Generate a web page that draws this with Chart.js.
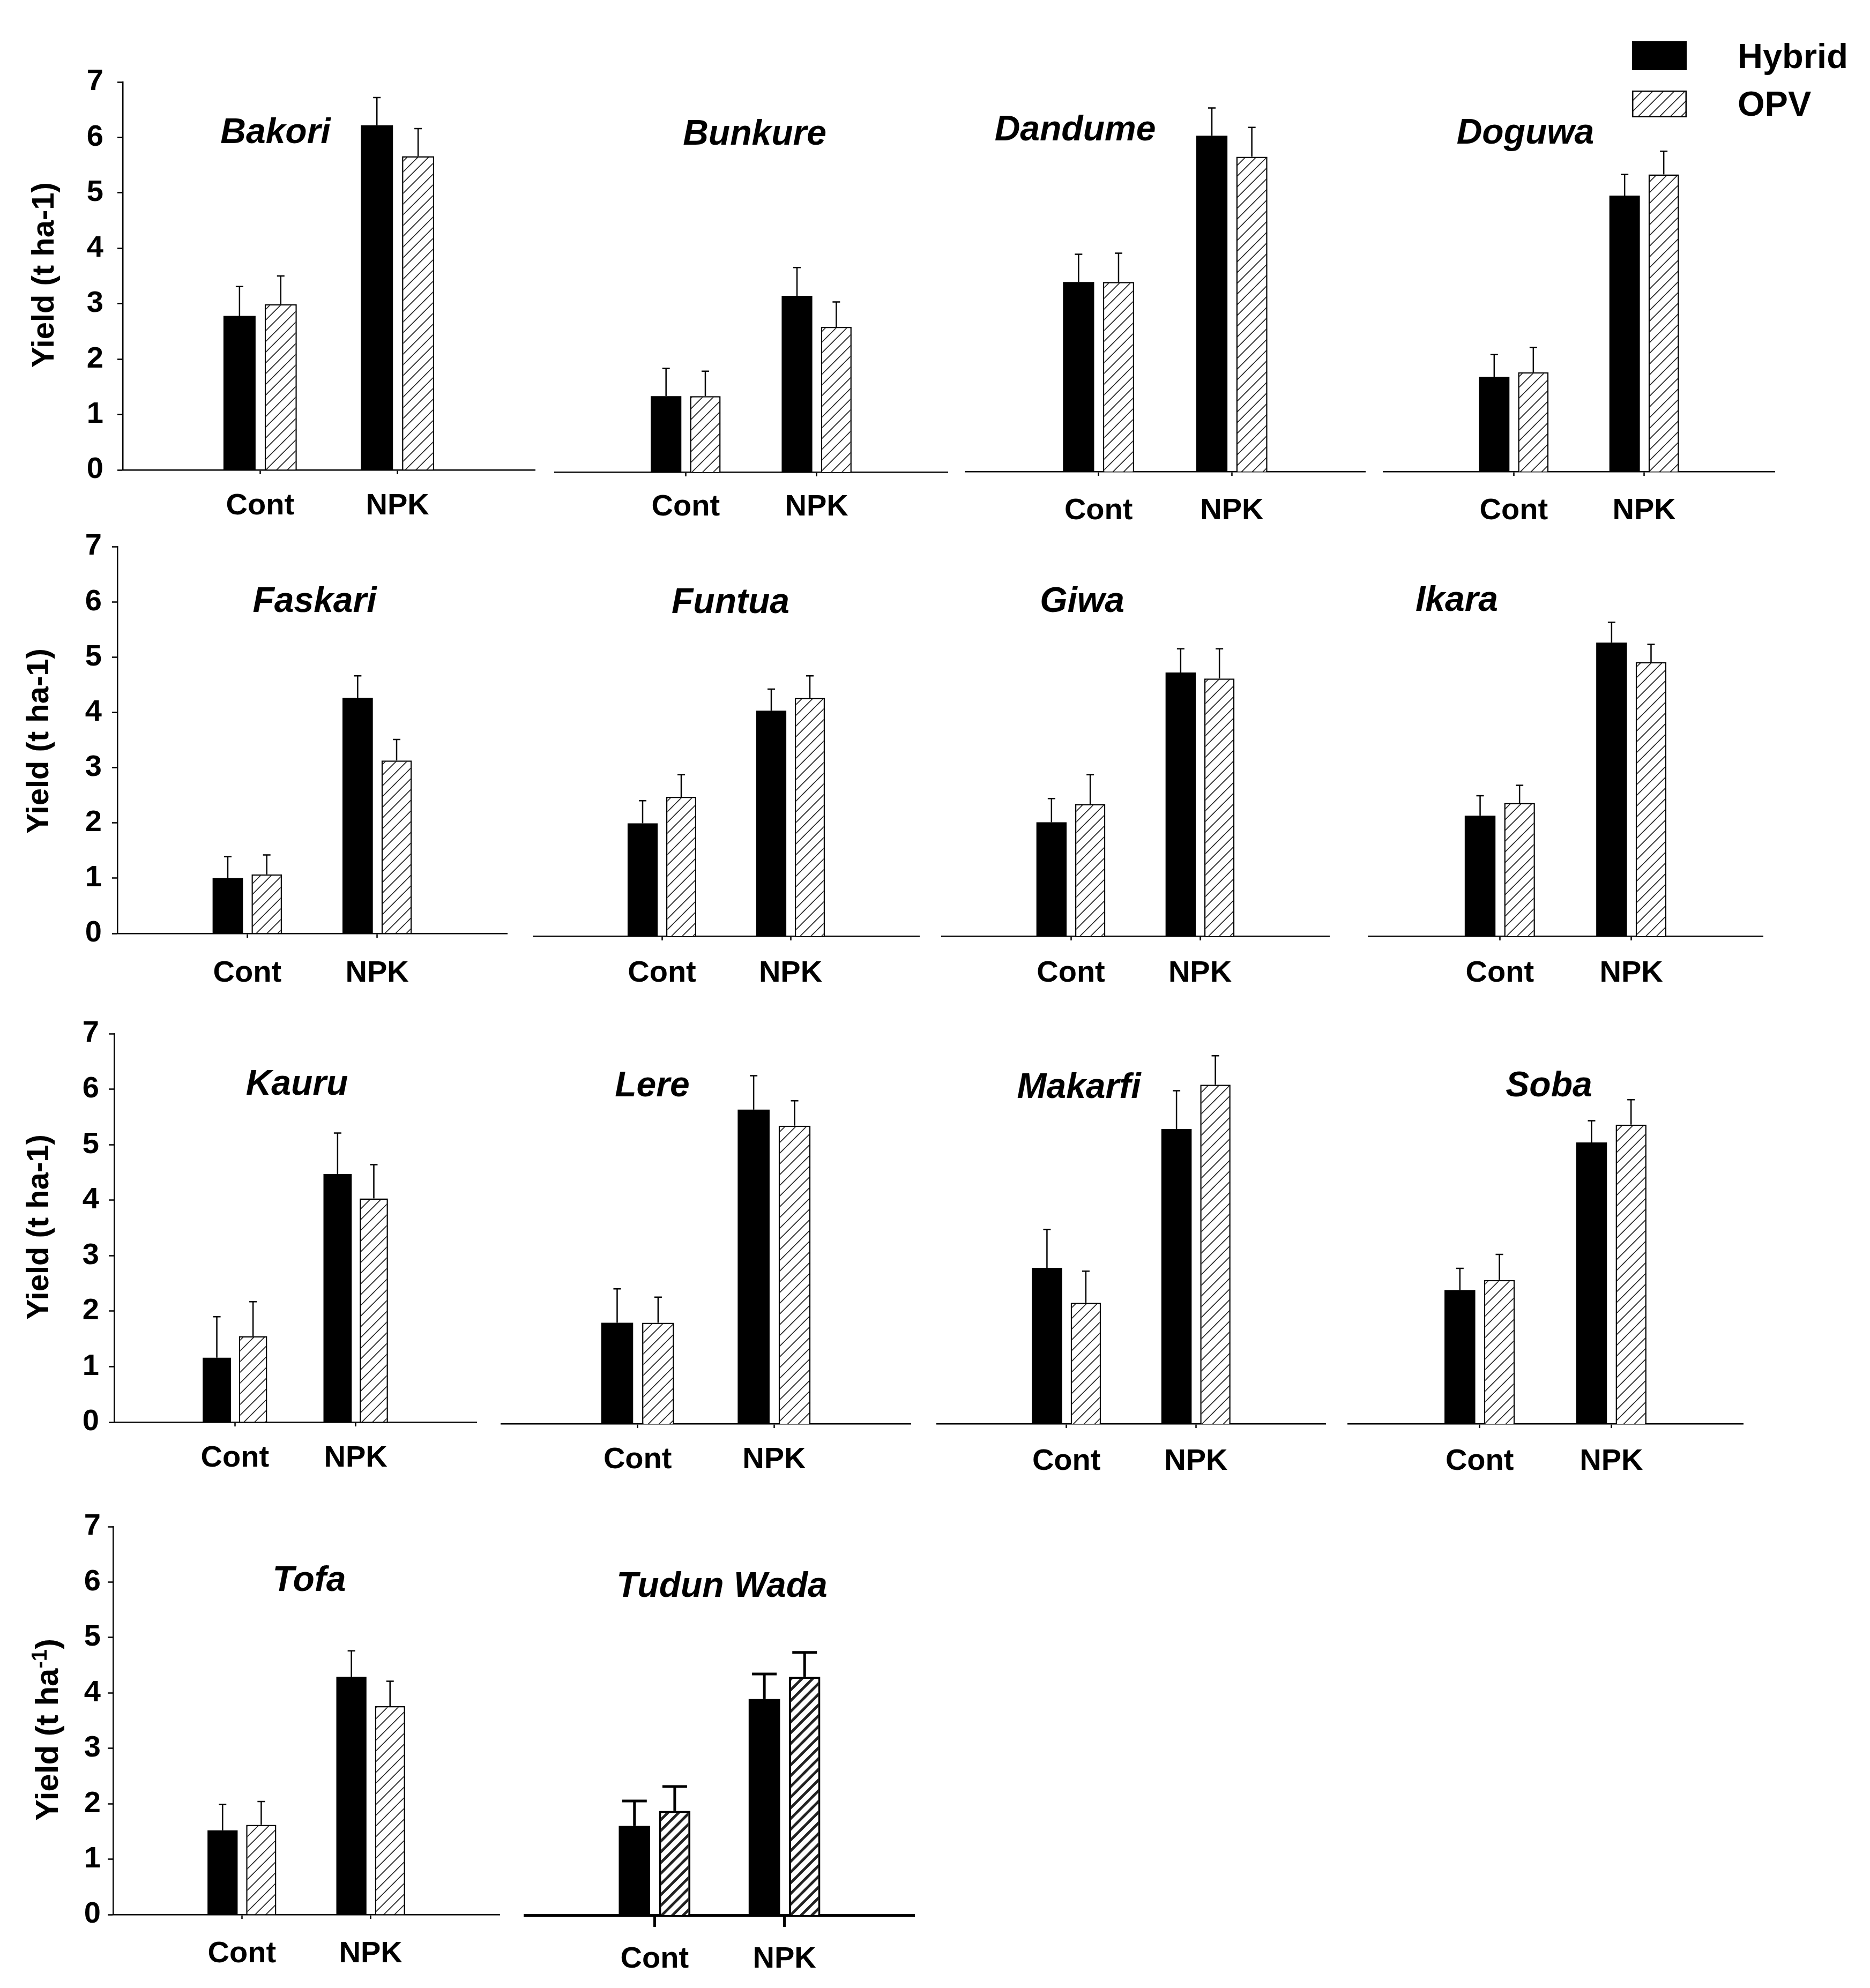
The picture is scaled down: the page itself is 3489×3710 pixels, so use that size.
<!DOCTYPE html>
<html>
<head>
<meta charset="utf-8">
<script src="https://cdn.jsdelivr.net/npm/chart.js@4.4.1/dist/chart.umd.min.js"></script>
<style>
  html, body { margin: 0; padding: 0; background: #fff; }
  #page { position: relative; width: 3489px; height: 3710px; overflow: hidden; background: #fff; }
  #page canvas { position: absolute; }
  .leg { position: absolute; font: bold 65px "Liberation Sans", Arial, sans-serif; color: #000; line-height: 1; white-space: nowrap; }
</style>
</head>
<body>
<div id="page"></div>
<script>
// data (t/ha), pairs are [Cont, NPK]
const sites = ['Bakori', 'Bunkure', 'Dandume', 'Doguwa', 'Faskari', 'Funtua', 'Giwa',
  'Ikara', 'Kauru', 'Lere', 'Makarfi', 'Soba', 'Tofa', 'Tudun Wada'];
const treatments = ['Cont', 'NPK'];
const series = ['Hybrid', 'OPV'];
const yTicks = [0, 1, 2, 3, 4, 5, 6, 7];

const hybridYield = [
  [2.78, 6.22], [1.37, 3.18], [3.42, 6.06], [1.71, 4.98],
  [1.00, 4.26], [2.04, 4.08], [2.06, 4.77], [2.18, 5.31],
  [1.16, 4.47], [1.82, 5.66], [2.81, 5.31], [2.41, 5.07],
  [1.52, 4.29], [1.61, 3.90]
];
const opvYield = [
  [2.99, 5.66], [1.37, 2.62], [3.42, 5.68], [1.79, 5.36],
  [1.07, 3.13], [2.52, 4.31], [2.39, 4.66], [2.41, 4.96],
  [1.55, 4.03], [1.82, 5.37], [2.18, 6.11], [2.59, 5.39],
  [1.62, 3.76], [1.88, 4.30]
];
const hybridSE = [
  [0.53, 0.50], [0.50, 0.51], [0.50, 0.50], [0.40, 0.38],
  [0.39, 0.40], [0.41, 0.39], [0.43, 0.43], [0.36, 0.37],
  [0.74, 0.74], [0.61, 0.61], [0.69, 0.69], [0.39, 0.39],
  [0.47, 0.47], [0.45, 0.45]
];
const opvSE = [
  [0.51, 0.50], [0.45, 0.45], [0.52, 0.53], [0.45, 0.42],
  [0.35, 0.38], [0.40, 0.40], [0.53, 0.54], [0.32, 0.32],
  [0.62, 0.61], [0.46, 0.45], [0.57, 0.52], [0.46, 0.45],
  [0.42, 0.45], [0.44, 0.44]
];

// where each panel sits on the page (pixels)
const layout = [
  { x0: 229, x1: 998, yBot: 877, unit: 103.4, tx: 514, ty: 243, lo: 68, yt: { x: 79, y: 513, sup: false, size: 58 }, ypad: 26 },
  { x0: 1035, x1: 1768, yBot: 881, unit: 103.4, tx: 1408, ty: 246, lo: 66 },
  { x0: 1801, x1: 2547, yBot: 880, unit: 103.4, tx: 2006, ty: 238, lo: 74 },
  { x0: 2581, x1: 3311, yBot: 880, unit: 103.4, tx: 2846, ty: 244, lo: 74 },
  { x0: 219, x1: 946, yBot: 1742, unit: 103.1, tx: 587, ty: 1118, lo: 75, yt: { x: 69, y: 1383, sup: false, size: 58 }, ypad: 19 },
  { x0: 995, x1: 1715, yBot: 1747, unit: 103.1, tx: 1363, ty: 1120, lo: 70 },
  { x0: 1757, x1: 2480, yBot: 1747, unit: 103.1, tx: 2019, ty: 1118, lo: 70 },
  { x0: 2553, x1: 3289, yBot: 1747, unit: 103.1, tx: 2718, ty: 1116, lo: 70 },
  { x0: 213, x1: 889, yBot: 2654, unit: 103.6, tx: 554, ty: 2019, lo: 68, yt: { x: 69, y: 2290, sup: false, size: 58 }, ypad: 18 },
  { x0: 935, x1: 1699, yBot: 2657, unit: 103.6, tx: 1217, ty: 2022, lo: 68 },
  { x0: 1748, x1: 2473, yBot: 2657, unit: 103.6, tx: 2013, ty: 2025, lo: 71 },
  { x0: 2515, x1: 3252, yBot: 2657, unit: 103.6, tx: 2890, ty: 2022, lo: 71 },
  { x0: 211, x1: 932, yBot: 3573, unit: 103.4, tx: 577, ty: 2945, lo: 74, yt: { x: 87, y: 3228, sup: true, size: 60 }, ypad: 13 },
  { x0: 979, x1: 1706, yBot: 3574, unit: 103.4, tx: 1347, ty: 2956, lo: 83, heavy: true }
];

const FONT = '"Liberation Sans", Arial, Helvetica, sans-serif';
const T = 80, B = 130, R = 40;

function hatch(lw) {
  const s = 20;
  const c = document.createElement('canvas');
  c.width = c.height = s;
  const g = c.getContext('2d');
  g.fillStyle = '#fff';
  g.fillRect(0, 0, s, s);
  g.strokeStyle = '#222';
  g.lineWidth = lw;
  g.beginPath();
  g.moveTo(-2, s + 2); g.lineTo(s + 2, -2);
  g.moveTo(-s / 2 - 2, s / 2 + 2); g.lineTo(s / 2 + 2, -s / 2 - 2);
  g.moveTo(s / 2 - 2, s * 1.5 + 2); g.lineTo(s * 1.5 + 2, s / 2 - 2);
  g.stroke();
  return g.createPattern(c, 'repeat');
}

const errorBars = {
  id: 'errorBars',
  afterDatasetsDraw(chart, args, o) {
    const ctx = chart.ctx, y = chart.scales.y;
    ctx.save();
    ctx.strokeStyle = '#000';
    ctx.lineWidth = o.width;
    chart.data.datasets.forEach((ds, d) => {
      chart.getDatasetMeta(d).data.forEach((bar, j) => {
        const v = ds.data[j];
        if (v == null) return;
        const top = y.getPixelForValue(v + ds.errors[j]);
        ctx.beginPath();
        ctx.moveTo(bar.x, bar.y);
        ctx.lineTo(bar.x, top);
        ctx.moveTo(bar.x - o.cap / 2, top);
        ctx.lineTo(bar.x + o.cap / 2, top);
        ctx.stroke();
      });
    });
    ctx.restore();
  }
};

const panelText = {
  id: 'panelText',
  afterDraw(chart, args, o) {
    const ctx = chart.ctx;
    ctx.save();
    ctx.fillStyle = '#000';
    ctx.font = 'italic bold 66px ' + FONT;
    ctx.textAlign = 'center';
    ctx.textBaseline = 'alphabetic';
    ctx.fillText(o.title, o.tx, o.ty + 24);
    if (o.yt) {
      const size = o.yt.size, small = Math.round(size * 0.66);
      const big = 'bold ' + size + 'px ' + FONT, sm = 'bold ' + small + 'px ' + FONT;
      const parts = o.yt.sup
        ? [['Yield (t ha', big, 0], ['-1', sm, -size * 0.36], [')', big, 0]]
        : [['Yield (t ha-1)', big, 0]];
      let total = 0;
      parts.forEach(p => { ctx.font = p[1]; total += ctx.measureText(p[0]).width; });
      ctx.translate(o.yt.x, o.yt.y);
      ctx.rotate(-Math.PI / 2);
      ctx.textAlign = 'left';
      let x = -total / 2;
      parts.forEach(p => {
        ctx.font = p[1];
        ctx.fillText(p[0], x, size * 0.358 + p[2]);
        x += ctx.measureText(p[0]).width;
      });
    }
    ctx.restore();
  }
};

const page = document.getElementById('page');

sites.forEach((site, i) => {
  const p = layout[i];
  const first = !!p.yt;
  const heavy = !!p.heavy;
  const yTopPx = Math.round(p.yBot - 7 * p.unit);
  const plotH = Math.round(p.yBot) - yTopPx;
  const L = first ? p.x0 : 40;
  const left = p.x0 - L;
  const top = yTopPx - T;
  const w = L + (p.x1 - p.x0) + R;
  const h = T + plotH + B;
  const tl = heavy ? 22 : 8;

  const cv = document.createElement('canvas');
  cv.width = w; cv.height = h;
  cv.style.left = left + 'px';
  cv.style.top = top + 'px';
  cv.style.width = w + 'px';
  cv.style.height = h + 'px';
  page.appendChild(cv);

  const tickFont = { family: FONT, size: 56, weight: 'bold' };

  new Chart(cv, {
    type: 'bar',
    data: {
      labels: ['', ...treatments, ''],
      datasets: [
        {
          label: series[0],
          data: [null, ...hybridYield[i], null],
          errors: [null, ...hybridSE[i], null],
          backgroundColor: '#000',
          borderWidth: 0
        },
        {
          label: series[1],
          data: [null, ...opvYield[i], null],
          errors: [null, ...opvSE[i], null],
          backgroundColor: hatch(heavy ? 5 : 1.6),
          borderColor: '#000',
          borderWidth: heavy ? 4 : 2.5
        }
      ]
    },
    options: {
      responsive: false,
      animation: false,
      devicePixelRatio: 1,
      layout: { padding: { left: first ? 0 : L, right: R, top: T, bottom: 0 } },
      datasets: { bar: { categoryPercentage: heavy ? 0.62 : 0.6, barPercentage: 0.78 } },
      plugins: {
        legend: { display: false },
        tooltip: { enabled: false },
        errorBars: { width: heavy ? 5 : 2.5, cap: heavy ? 46 : 14 },
        panelText: {
          title: site,
          tx: p.tx - left, ty: p.ty - top,
          yt: first ? { x: p.yt.x - left, y: p.yt.y - top, sup: p.yt.sup, size: p.yt.size } : null
        }
      },
      scales: {
        x: {
          offset: false,
          grid: {
            offset: false, display: true, drawOnChartArea: false, drawTicks: true,
            tickLength: tl, tickWidth: heavy ? 5 : 2.5,
            tickColor: c => (c.tick && c.tick.label) ? '#000' : 'rgba(0,0,0,0)'
          },
          border: { display: true, color: '#000', width: heavy ? 5 : 2.5 },
          ticks: { autoSkip: false, maxRotation: 0, color: '#000', font: tickFont, padding: p.lo - tl - 34 },
          afterFit: s => { s.height = B; }
        },
        y: {
          display: first,
          min: yTicks[0],
          max: yTicks[yTicks.length - 1],
          ticks: { stepSize: 1, color: '#000', font: tickFont, padding: p.ypad || 0 },
          grid: { display: true, drawOnChartArea: false, tickLength: 10, tickWidth: 2.5, tickColor: '#000' },
          border: { display: true, color: '#000', width: 2.5 },
          afterFit: s => { s.width = first ? L : 0; }
        }
      }
    },
    plugins: [errorBars, panelText]
  });
});

// legend, top right
const solid = document.createElement('div');
solid.style.cssText = 'position:absolute;left:3045px;top:77px;width:102px;height:54px;background:#000;';
page.appendChild(solid);

const sw = document.createElement('canvas');
sw.width = 102; sw.height = 50;
sw.style.left = '3045px'; sw.style.top = '169px';
page.appendChild(sw);
const sg = sw.getContext('2d');
sg.fillStyle = hatch(1.6);
sg.fillRect(0, 0, 102, 50);
sg.strokeStyle = '#000';
sg.lineWidth = 2.5;
sg.strokeRect(1.25, 1.25, 99.5, 47.5);

[[series[0], 72], [series[1], 161]].forEach(([txt, y]) => {
  const d = document.createElement('div');
  d.className = 'leg';
  d.style.left = '3242px';
  d.style.top = y + 'px';
  d.textContent = txt;
  page.appendChild(d);
});
</script>
</body>
</html>
